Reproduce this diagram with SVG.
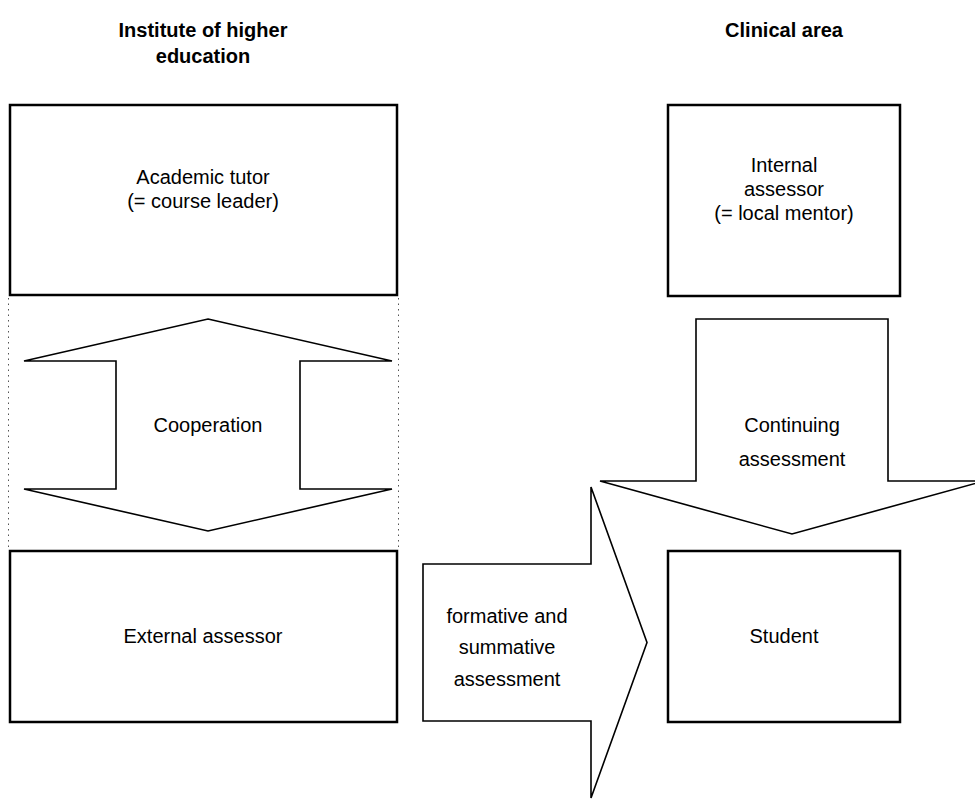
<svg xmlns="http://www.w3.org/2000/svg" width="975" height="801" viewBox="0 0 975 801">
<style>
.box{fill:#fff;stroke:#000;stroke-width:2.5}
.arr{fill:#fff;stroke:#000;stroke-width:1.6;stroke-linejoin:miter}
.t{font-family:"Liberation Sans",Arial,sans-serif;font-size:20px;fill:#000;text-anchor:middle}
.h{font-family:"Liberation Sans",Arial,sans-serif;font-size:20px;font-weight:bold;fill:#000;text-anchor:middle}
.dot{stroke:#555;stroke-width:1;stroke-dasharray:1.5 4;fill:none}
</style>
<rect width="975" height="801" fill="#fff"/>
<g id="headers">
<text class="h" x="203" y="37">Institute of higher</text>
<text class="h" x="203" y="63">education</text>
<text class="h" x="784" y="37">Clinical area</text>
</g>
<g id="guides">
<line class="dot" x1="8.5" y1="298" x2="8.5" y2="550"/>
<line class="dot" x1="398.5" y1="298" x2="398.5" y2="550"/>
</g>
<g id="connectors">
<g id="cooperation">
<polygon class="arr" points="208,319 392,361 300,361 300,489 392,489 208,531 24,489 116,489 116,361 24,361"/>
<text class="t" x="208" y="432">Cooperation</text>
</g>
<g id="continuing">
<polygon class="arr" points="696,319 888,319 888,481 984,481 792,534 600,481 696,481"/>
<text class="t" x="792" y="432">Continuing</text>
<text class="t" x="792" y="466">assessment</text>
</g>
<g id="formative">
<polygon class="arr" points="423,564 591,564 591,487 647,642.5 591,798 591,721 423,721"/>
<text class="t" x="507" y="623">formative and</text>
<text class="t" x="507" y="654">summative</text>
<text class="t" x="507" y="686">assessment</text>
</g>
</g>
<g id="academic-tutor">
<rect class="box" x="10" y="105" width="387" height="190"/>
<text class="t" x="203" y="184">Academic tutor</text>
<text class="t" x="203" y="208">(= course leader)</text>
</g>
<g id="internal-assessor">
<rect class="box" x="668" y="105" width="232" height="191"/>
<text class="t" x="784" y="172">Internal</text>
<text class="t" x="784" y="196">assessor</text>
<text class="t" x="784" y="220">(= local mentor)</text>
</g>
<g id="external-assessor">
<rect class="box" x="10" y="551" width="387" height="171"/>
<text class="t" x="203" y="643">External assessor</text>
</g>
<g id="student">
<rect class="box" x="668" y="551" width="232" height="171"/>
<text class="t" x="784" y="643">Student</text>
</g>
</svg>
